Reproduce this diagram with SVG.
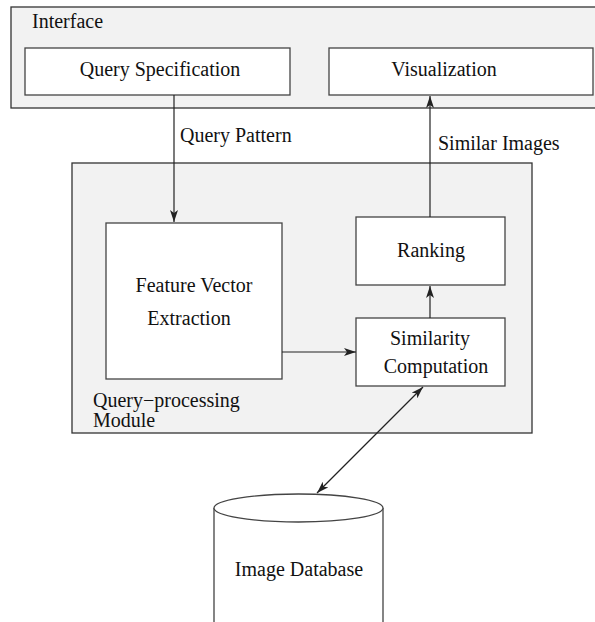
<svg xmlns="http://www.w3.org/2000/svg" width="595" height="622" viewBox="0 0 595 622">
<style>
.bg{fill:#f2f2f2;stroke:#333;stroke-width:1.3}
.box{fill:#fff;stroke:#444;stroke-width:1.3}
.t{font-size:20px;fill:#111}
.c{text-anchor:middle}
.ln{fill:none;stroke:#222;stroke-width:1.2}
</style>
<defs>
<marker id="ah" viewBox="0 0 12 8" refX="12" refY="4" markerWidth="12" markerHeight="8" markerUnits="userSpaceOnUse" orient="auto-start-reverse">
<path d="M0,0 L12,4 L0,8 L3,4 Z" fill="#222"/>
</marker>
</defs>
<g font-family="Liberation Serif, Times New Roman, DejaVu Serif, serif">
<g id="interface">
<rect class="bg" x="11" y="7" width="600" height="101"/>
<text class="t" x="32" y="28">Interface</text>
</g>
<g id="query-spec">
<rect class="box" x="25" y="48" width="265" height="47"/>
<text class="t c" x="160" y="76">Query Specification</text>
</g>
<g id="visualization">
<rect class="box" x="329" y="48" width="264" height="47"/>
<text class="t c" x="444" y="76">Visualization</text>
</g>
<g id="module">
<rect class="bg" x="72" y="163" width="460" height="270"/>
<text class="t" x="93" y="407">Query−processing</text>
<text class="t" x="93" y="427">Module</text>
</g>
<g id="feature">
<rect class="box" x="106" y="223" width="176" height="156"/>
<text class="t c" x="194" y="292">Feature Vector</text>
<text class="t c" x="189" y="325">Extraction</text>
</g>
<g id="ranking">
<rect class="box" x="356" y="217" width="149" height="68"/>
<text class="t c" x="431" y="257">Ranking</text>
</g>
<g id="similarity">
<rect class="box" x="356" y="318" width="149" height="68"/>
<text class="t c" x="430" y="345">Similarity</text>
<text class="t c" x="436" y="373">Computation</text>
</g>
<g id="database">
<path class="box" d="M214,508 L214,640 L383,640 L383,508"/>
<ellipse class="box" cx="298.5" cy="508" rx="84.5" ry="14"/>
<text class="t c" x="299" y="576">Image Database</text>
</g>
<g id="connectors">
<line class="ln" x1="174" y1="95" x2="174" y2="222" marker-end="url(#ah)"/>
<line class="ln" x1="430" y1="217" x2="430" y2="96" marker-end="url(#ah)"/>
<line class="ln" x1="430" y1="318" x2="430" y2="286" marker-end="url(#ah)"/>
<line class="ln" x1="282" y1="352" x2="356" y2="352" marker-end="url(#ah)"/>
<line class="ln" x1="317" y1="493" x2="423" y2="387" marker-start="url(#ah)" marker-end="url(#ah)"/>
<text class="t" x="180" y="142">Query Pattern</text>
<text class="t" x="438" y="150">Similar Images</text>
</g>
</g>
</svg>
